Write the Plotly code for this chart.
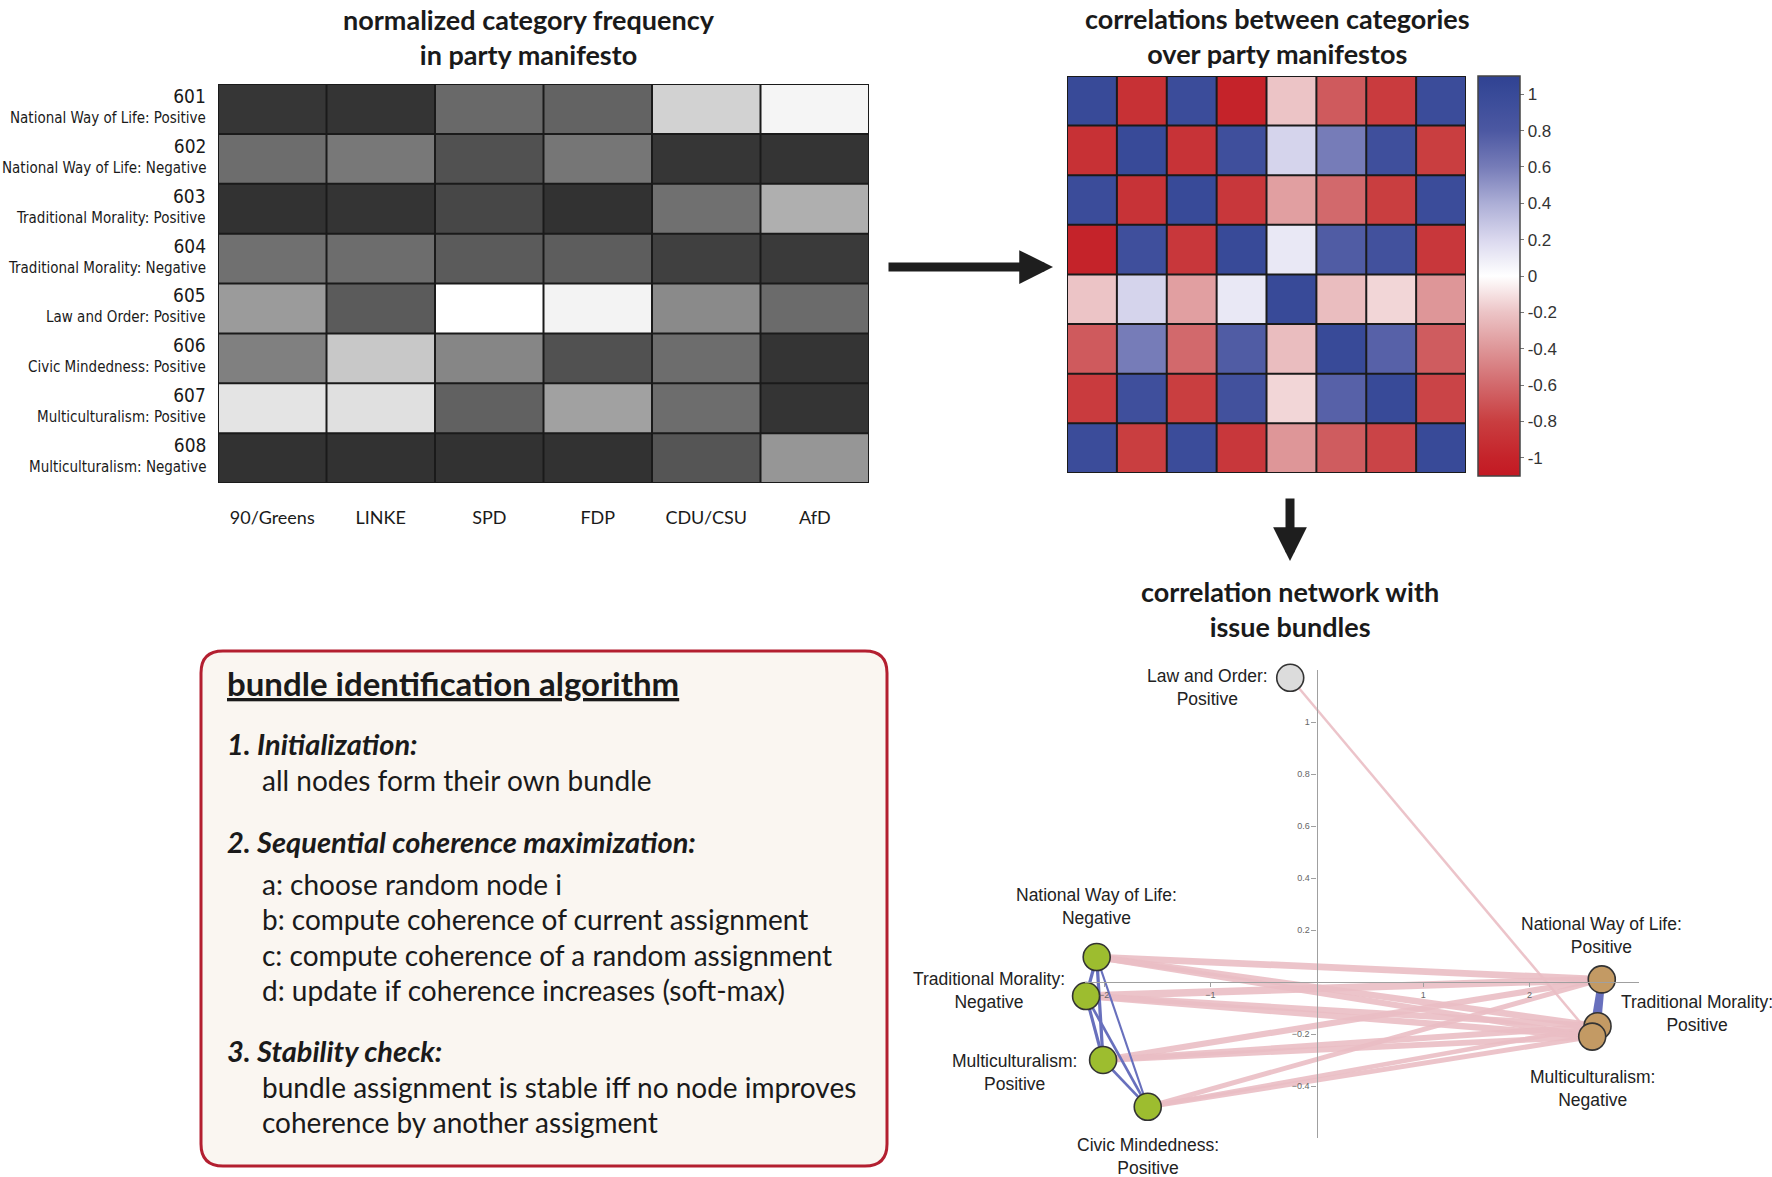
import plotly.graph_objects as go

W, H = 1772, 1177

# ---------------- data ----------------
codes = ["601", "602", "603", "604", "605", "606", "607", "608"]
category_names = [
    "National Way of Life: Positive",
    "National Way of Life: Negative",
    "Traditional Morality: Positive",
    "Traditional Morality: Negative",
    "Law and Order: Positive",
    "Civic Mindedness: Positive",
    "Multiculturalism: Positive",
    "Multiculturalism: Negative",
]
parties = ["90/Greens", "LINKE", "SPD", "FDP", "CDU/CSU", "AfD"]

# normalized category frequency (0 = dark, 1 = white)
freq = [
    [0.02, 0.01, 0.27, 0.24, 0.78, 0.95],
    [0.29, 0.34, 0.15, 0.33, 0.02, 0.01],
    [0.00, 0.01, 0.10, 0.00, 0.30, 0.61],
    [0.30, 0.29, 0.20, 0.21, 0.07, 0.04],
    [0.51, 0.20, 1.00, 0.94, 0.43, 0.28],
    [0.38, 0.73, 0.41, 0.15, 0.29, 0.01],
    [0.87, 0.85, 0.23, 0.54, 0.29, 0.01],
    [0.00, 0.00, 0.00, 0.00, 0.17, 0.49],
]

corr = [
    [1.00, -0.90, 0.97, -1.00, -0.20, -0.67, -0.82, 0.97],
    [-0.90, 1.00, -0.88, 0.93, 0.22, 0.60, 0.93, -0.80],
    [0.97, -0.88, 1.00, -0.85, -0.36, -0.60, -0.80, 0.97],
    [-1.00, 0.93, -0.85, 1.00, 0.12, 0.78, 0.90, -0.85],
    [-0.20, 0.22, -0.36, 0.12, 1.00, -0.23, -0.14, -0.40],
    [-0.67, 0.60, -0.60, 0.78, -0.23, 1.00, 0.75, -0.66],
    [-0.82, 0.93, -0.80, 0.90, -0.14, 0.75, 1.00, -0.77],
    [0.97, -0.80, 0.97, -0.85, -0.40, -0.66, -0.77, 1.00],
]
cbar_ticks = [1, 0.8, 0.6, 0.4, 0.2, 0, -0.2, -0.4, -0.6, -0.8, -1]

# network layout (node order = codes)
node_x = [2.68, -2.07, 2.64, -2.17, -0.25, -1.59, -2.01, 2.59]
node_y = [0.01, 0.096, -0.17, -0.054, 1.17, -0.48, -0.30, -0.21]
node_bundle = ["tan", "green", "tan", "green", "grey", "green", "green", "tan"]
net_labels = [
    "National Way of Life:<br>Positive",
    "National Way of Life:<br>Negative",
    "Traditional Morality:<br>Positive",
    "Traditional Morality:<br>Negative",
    "Law and Order:<br>Positive",
    "Civic Mindedness:<br>Positive",
    "Multiculturalism:<br>Positive",
    "Multiculturalism:<br>Negative",
]
net_xticks = [-2, -1, 1, 2]
net_yticks = [-0.4, -0.2, 0.2, 0.4, 0.6, 0.8, 1]
edge_threshold = 0.38

# ---------------- helpers / styles ----------------
def px(x):
    return x / W

def py(y):
    return 1 - y / H

bundle_colors = {"green": "#9dbd2f", "tan": "#c39a64", "grey": "#dcdcdc"}
TITLE_FONT = "Lato, Open Sans, sans-serif"
COND_FONT = "Liberation Sans Narrow, DejaVu Sans Condensed, sans-serif"
ARIAL = "Liberation Sans, Arial, sans-serif"

fig = go.Figure()

# ---------------- gray heatmap ----------------
fig.add_trace(go.Heatmap(
    z=freq, x=list(range(len(parties))), y=list(range(len(codes))),
    colorscale=[[0, "rgb(50,50,50)"], [1, "rgb(255,255,255)"]],
    zmin=0, zmax=1, showscale=False, xaxis="x", yaxis="y", hoverinfo="skip"))

# ---------------- correlation heatmap ----------------
zmin, zmax = -1.1, 1.1
corr_stops = [
    (-1.1, "rgb(195,25,35)"),
    (-1.0, "rgb(197,35,42)"),
    (-0.8, "rgb(201,62,64)"),
    (-0.6, "rgb(210,105,108)"),
    (-0.4, "rgb(222,150,152)"),
    (-0.2, "rgb(236,196,198)"),
    (0.0, "rgb(255,255,255)"),
    (0.2, "rgb(218,216,238)"),
    (0.4, "rgb(172,174,214)"),
    (0.6, "rgb(118,124,184)"),
    (0.8, "rgb(76,88,162)"),
    (1.0, "rgb(56,74,152)"),
    (1.1, "rgb(48,66,146)"),
]
corr_scale = [[(v - zmin) / (zmax - zmin), c] for v, c in corr_stops]
fig.add_trace(go.Heatmap(
    z=corr, x=list(range(len(codes))), y=list(range(len(codes))),
    colorscale=corr_scale, zmin=zmin, zmax=zmax, xaxis="x2", yaxis="y2",
    hoverinfo="skip",
    colorbar=dict(
        x=px(1478), xanchor="left", y=py(276), yanchor="middle",
        len=400 / H, lenmode="fraction", thickness=42, thicknessmode="pixels",
        outlinewidth=1.5, outlinecolor="#444", xpad=0, ypad=0,
        tickvals=cbar_ticks, ticktext=[("%g" % t) for t in cbar_ticks],
        ticks="outside", ticklen=4, tickcolor="#777",
        tickfont=dict(family=ARIAL, size=17, color="#333"),
    )))

# ---------------- network edges ----------------
n = len(codes)
pink_edges, blue_edges = [], []
for i in range(n):
    for j in range(i + 1, n):
        r = corr[i][j]
        if abs(r) < edge_threshold:
            continue
        if r < 0:
            pink_edges.append((i, j, r))
        else:
            blue_edges.append((i, j, r))

for i, j, r in pink_edges:
    w = 2.5 if "grey" in (node_bundle[i], node_bundle[j]) else 7.5 * abs(r)
    fig.add_trace(go.Scatter(
        x=[node_x[i], node_x[j]], y=[node_y[i], node_y[j]], mode="lines",
        line=dict(color="rgba(234,190,196,0.9)", width=w),
        xaxis="x3", yaxis="y3", hoverinfo="skip", showlegend=False, cliponaxis=False))
for i, j, r in blue_edges:
    w = 7 * abs(r) if node_bundle[i] == "tan" else 3.5 * abs(r)
    fig.add_trace(go.Scatter(
        x=[node_x[i], node_x[j]], y=[node_y[i], node_y[j]], mode="lines",
        line=dict(color="#6870bd", width=w),
        xaxis="x3", yaxis="y3", hoverinfo="skip", showlegend=False, cliponaxis=False))

fig.add_trace(go.Scatter(
    x=node_x, y=node_y, mode="markers",
    marker=dict(size=27, color=[bundle_colors[b] for b in node_bundle],
                line=dict(color="#333", width=1.6)),
    xaxis="x3", yaxis="y3", hoverinfo="skip", showlegend=False, cliponaxis=False))

# ---------------- annotations ----------------
ann = []

def title(text, x, y):
    ann.append(dict(text=text, x=px(x), y=py(y), xref="paper", yref="paper",
                    xanchor="center", yanchor="middle", showarrow=False,
                    font=dict(family=TITLE_FONT, size=27, color="#1a1a1a", weight="bold")))

title("normalized category frequency<br>in party manifesto", 529, 37)
title("correlations between categories<br>over party manifestos", 1277, 36)
title("correlation network with<br>issue bundles", 1290, 609)

# row labels of gray heatmap
for k, (c, name) in enumerate(zip(codes, category_names)):
    ann.append(dict(
        text="<span style='font-size:19px'>%s</span><br>%s" % (c, name),
        x=px(208), y=k, xref="paper", yref="y", xanchor="right", yanchor="middle",
        align="right", showarrow=False, yshift=3,
        font=dict(family=COND_FONT, size=15, color="#1a1a1a")))

# network node labels: (xanchor, yanchor, xshift, yshift)
label_place = [
    ("center", "bottom", 0, 20),
    ("center", "bottom", 0, 27),
    ("left", "middle", 21, 13),
    ("right", "middle", -19, 6),
    ("right", "middle", -20, -10),
    ("center", "top", 0, -26),
    ("right", "middle", -24, -12),
    ("center", "top", 0, -28),
]
for k in range(n):
    xa, ya, xs, ys = label_place[k]
    ann.append(dict(text=net_labels[k], x=node_x[k], y=node_y[k], xref="x3", yref="y3",
                    xanchor=xa, yanchor=ya, xshift=xs, yshift=ys, align="center",
                    showarrow=False, font=dict(family=ARIAL, size=17.5, color="#222")))

# arrows
ann.append(dict(x=px(1053), y=py(267), xref="paper", yref="paper", ax=-166, ay=0,
                text="", showarrow=True, arrowhead=2, arrowsize=0.75, arrowwidth=9,
                arrowcolor="#1e1e1e"))
ann.append(dict(x=px(1290), y=py(561), xref="paper", yref="paper", ax=0, ay=-64,
                text="", showarrow=True, arrowhead=2, arrowsize=0.75, arrowwidth=9,
                arrowcolor="#1e1e1e"))

# algorithm box text
box_lines = [
    (225, 683, "<b><u>bundle identification algorithm</u></b>", 33),
    (225, 744, "<b><i>1. Initialization:</i></b>", 29),
    (260, 780, "all nodes form their own bundle", 28),
    (225, 841, "<b><i>2. Sequential coherence maximization:</i></b>", 29),
    (260, 884, "a: choose random node i", 28),
    (260, 919, "b: compute coherence of current assignment", 28),
    (260, 955, "c: compute coherence of a random assignment", 28),
    (260, 990, "d: update if coherence increases (soft-max)", 28),
    (225, 1050, "<b><i>3. Stability check:</i></b>", 29),
    (260, 1087, "bundle assignment is stable iff no node improves", 28),
    (260, 1122, "coherence by another assigment", 28),
]
for x, y, t, s in box_lines:
    ann.append(dict(text=t, x=px(x), y=py(y), xref="paper", yref="paper",
                    xanchor="left", yanchor="middle", showarrow=False,
                    font=dict(family=TITLE_FONT, size=s, color="#1a1a1a")))

# ---------------- shapes ----------------
shapes = []
for i in range(len(parties) + 1):
    shapes.append(dict(type="line", xref="x", yref="y", x0=i - 0.5, x1=i - 0.5,
                       y0=-0.5, y1=len(codes) - 0.5, line=dict(color="#1a1a1a", width=2)))
for j in range(len(codes) + 1):
    shapes.append(dict(type="line", xref="x", yref="y", x0=-0.5, x1=len(parties) - 0.5,
                       y0=j - 0.5, y1=j - 0.5, line=dict(color="#1a1a1a", width=2)))
for i in range(n + 1):
    shapes.append(dict(type="line", xref="x2", yref="y2", x0=i - 0.5, x1=i - 0.5,
                       y0=-0.5, y1=n - 0.5, line=dict(color="#1a1a1a", width=2)))
    shapes.append(dict(type="line", xref="x2", yref="y2", x0=-0.5, x1=n - 0.5,
                       y0=i - 0.5, y1=i - 0.5, line=dict(color="#1a1a1a", width=2)))

# rounded box
bx0, bx1, byt, byb, rad = 201, 887, 651, 1166, 22
X0, X1, YT, YB = px(bx0), px(bx1), py(byt), py(byb)
rx, ry = rad / W, rad / H
path = (f"M {X0+rx},{YT} L {X1-rx},{YT} Q {X1},{YT} {X1},{YT-ry} "
        f"L {X1},{YB+ry} Q {X1},{YB} {X1-rx},{YB} L {X0+rx},{YB} "
        f"Q {X0},{YB} {X0},{YB+ry} L {X0},{YT-ry} Q {X0},{YT} {X0+rx},{YT} Z")
shapes.append(dict(type="path", path=path, xref="paper", yref="paper",
                   fillcolor="#faf6f1", line=dict(color="#b31f30", width=3), layer="below"))

# ---------------- layout ----------------
hidden = dict(showgrid=False, zeroline=False, showticklabels=False, ticks="", showline=False)
fig.update_layout(
    width=W, height=H, margin=dict(l=0, r=0, t=0, b=0),
    paper_bgcolor="white", plot_bgcolor="rgba(0,0,0,0)", showlegend=False,
    xaxis=dict(domain=[px(218), px(869)], range=[-0.5, len(parties) - 0.5],
               tickvals=list(range(len(parties))), ticktext=parties,
               showgrid=False, zeroline=False, ticks="outside", ticklen=18,
               tickcolor="rgba(0,0,0,0)", tickfont=dict(family=TITLE_FONT, size=18, color="#1a1a1a"),
               fixedrange=True),
    yaxis=dict(domain=[py(483), py(84)], range=[len(codes) - 0.5, -0.5], **hidden),
    xaxis2=dict(domain=[px(1067), px(1466)], range=[-0.5, n - 0.5], anchor="y2", **hidden),
    yaxis2=dict(domain=[py(473), py(76)], range=[n - 0.5, -0.5], anchor="x2", **hidden),
    xaxis3=dict(domain=[px(1085), px(1639)], range=[-2.18, 3.03], anchor="free",
                position=py(982), showline=True, linecolor="#a0a0a0", linewidth=1.3,
                showgrid=False, zeroline=False, tickvals=net_xticks, ticks="outside",
                ticklen=4, tickcolor="#a0a0a0", tickfont=dict(family=ARIAL, size=9, color="#666")),
    yaxis3=dict(domain=[py(1138), py(670)], range=[-0.6, 1.2], anchor="free",
                position=px(1316.6), showline=True, linecolor="#a0a0a0", linewidth=1.3,
                showgrid=False, zeroline=False, tickvals=net_yticks, ticks="outside",
                ticklen=5, tickcolor="#a0a0a0", tickfont=dict(family=ARIAL, size=9, color="#666")),
    annotations=ann, shapes=shapes,
)

fig.write_html("out.html", config={"displayModeBar": False},
               post_script="document.body.style.margin='0';")
